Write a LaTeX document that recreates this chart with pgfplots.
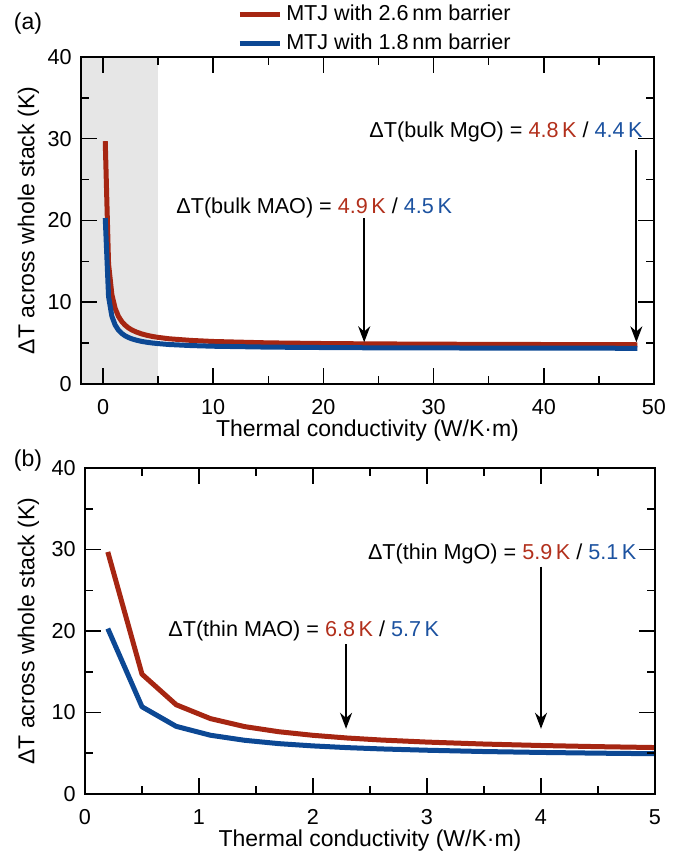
\documentclass[border=0pt]{standalone}
\usepackage{fontspec}
\setmainfont{Liberation Sans}
\usepackage{pgfplots}
\usepackage{pgfplotstable}
\pgfplotsset{compat=1.18}
\usetikzlibrary{arrows.meta}

\definecolor{mred}{RGB}{166,38,18}
\definecolor{mblue}{RGB}{12,72,148}
\definecolor{tred}{RGB}{178,48,28}
\definecolor{tblue}{RGB}{28,82,160}
\definecolor{shade}{RGB}{230,230,230}

% k (W/K m), dT for 2.6 nm and 1.8 nm barrier (K)
\pgfplotstableread{
k     red    blue
0.2   29.70  20.30
0.5   14.70  10.70
0.8   10.95  8.30
1.1   9.25   7.21
1.4   8.27   6.59
1.7   7.64   6.18
2.0   7.20   5.90
2.3   6.87   5.69
2.6   6.62   5.53
3.0   6.37   5.37
3.5   6.13   5.21
4.0   5.95   5.10
4.5   5.81   5.01
5.0   5.70   4.94
6.0   5.53   4.83
8.0   5.33   4.70
10    5.20   4.62
15    5.03   4.51
20    4.95   4.46
24    4.91   4.43
30    4.87   4.41
40    4.83   4.38
48.5  4.80   4.37
}\stack

\pgfplotsset{
  panel/.style={
    scale only axis,
    axis on top,
    font=\fontsize{10.8}{13}\selectfont,
    /pgf/number format/assume math mode=true,
    tick align=inside,
    major tick length=8pt,
    minor tick length=4pt,
    axis line style={line width=0.75pt},
    every tick/.style={line width=0.75pt, black},
    ymin=0, ymax=40,
    ytick={0,10,20,30,40},
    minor y tick num=1,
    minor x tick num=1,
    xticklabel style={anchor=base, inner sep=0pt, yshift=-15.5pt},
    yticklabel style={anchor=east, inner sep=0pt, xshift=-4.5pt},
    ylabel={ΔT across whole stack (K)},
    xlabel={Thermal conductivity (W/K·m)},
    label style={font=\fontsize{11.5}{13.5}\selectfont},
    xlabel style={at={(axis description cs:0.5,0)}, anchor=base, inner sep=0pt, yshift=-26.5pt},
  },
  curve/.style={line width=2.5pt, line join=round, line cap=butt},
}

\begin{document}
\begin{tikzpicture}
\useasboundingbox (0pt,0pt) rectangle (340.5pt,428pt);

\begin{axis}[
  panel,
  at={(40.5pt,236pt)}, anchor=south west,
  width=286.5pt, height=163.5pt,
  xmin=-2, xmax=50,
  xtick={0,10,20,30,40,50},
  ylabel style={at={([xshift=-20.75pt]axis description cs:0,0.5)}, anchor=south, inner sep=0pt},
  legend cell align=left,
  legend style={draw=none, fill=none, at={(axis description cs:0.272,1.0)}, anchor=south west,
    inner sep=0pt, row sep=1pt, font=\fontsize{10.8}{13}\selectfont},
  legend image code/.code={\draw[#1] (0pt,0pt) -- (20pt,0pt);},
]
\addplot[fill=shade, draw=none, forget plot] coordinates {(-2,40) (5,40)} \closedcycle;
\addplot[curve, mred] table[x=k, y=red] {\stack};
\addlegendentry{MTJ with 2.6\,nm barrier}
\addplot[curve, mblue] table[x=k, y=blue] {\stack};
\addlegendentry{MTJ with 1.8\,nm barrier}

\draw[-{Stealth[length=8pt,width=6pt]}, line width=1pt] (axis cs:23.7,20.3) -- (axis cs:23.7,5.1);
\draw[-{Stealth[length=8pt,width=6pt]}, line width=1pt] (axis cs:48.4,28.6) -- (axis cs:48.4,5.1);
\node[anchor=base east, inner sep=0pt] at (axis cs:31.7,20.9)
  {ΔT(bulk MAO) = \textcolor{tred}{4.9\,K} / \textcolor{tblue}{4.5\,K}};
\node[anchor=base east, inner sep=0pt] at (axis cs:49.0,30.2)
  {ΔT(bulk MgO) = \textcolor{tred}{4.8\,K} / \textcolor{tblue}{4.4\,K}};
\end{axis}

\begin{axis}[
  panel,
  at={(42.5pt,31pt)}, anchor=south west,
  width=285pt, height=163pt,
  xmin=0, xmax=5,
  xtick={0,1,2,3,4,5},
  ylabel style={at={([xshift=-22.75pt]axis description cs:0,0.5)}, anchor=south, inner sep=0pt},
]
\addplot[curve, mred] table[x=k, y=red] {\stack};
\addplot[curve, mblue] table[x=k, y=blue] {\stack};

\draw[-{Stealth[length=8pt,width=6pt]}, line width=1pt] (axis cs:2.29,18.4) -- (axis cs:2.29,8.0);
\draw[-{Stealth[length=8pt,width=6pt]}, line width=1pt] (axis cs:4.0,27.9) -- (axis cs:4.0,8.0);
\node[anchor=base east, inner sep=0pt] at (axis cs:3.11,19.3)
  {ΔT(thin MAO) = \textcolor{tred}{6.8\,K} / \textcolor{tblue}{5.7\,K}};
\node[anchor=base east, inner sep=0pt] at (axis cs:4.84,28.8)
  {ΔT(thin MgO) = \textcolor{tred}{5.9\,K} / \textcolor{tblue}{5.1\,K}};
\end{axis}

\node[font=\fontsize{11.5}{13.5}\selectfont] at (14pt,416pt) {(a)};
\node[font=\fontsize{11.5}{13.5}\selectfont] at (14pt,197.5pt) {(b)};
\end{tikzpicture}
\end{document}
